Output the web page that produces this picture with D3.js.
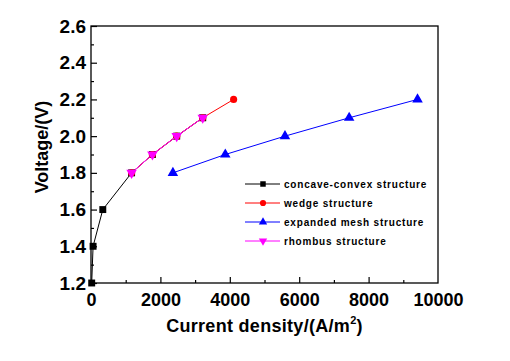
<!DOCTYPE html>
<html>
<head>
<meta charset="utf-8">
<script src="https://cdn.jsdelivr.net/npm/d3@7"></script>
<style>
  body { margin: 0; background: #fff; }
  text { font-family: "Liberation Sans", Arial, sans-serif; font-weight: bold; }
</style>
</head>
<body>
<div id="chart"></div>
<script>
// series data (current density A/m2, voltage V)
const concaveX = [20, 60, 340, 1170, 1770, 2470, 3220]
const concaveY = [1.2, 1.4, 1.6, 1.8, 1.9, 2.0, 2.1]
const wedgeX = [1170, 1770, 2470, 3220, 4110]
const wedgeY = [1.8, 1.9, 2.0, 2.1, 2.2]
const meshX = [2360, 3870, 5590, 7440, 9410]
const meshY = [1.8, 1.9, 2.0, 2.1, 2.2]
const rhombusX = [1170, 1770, 2470, 3220]
const rhombusY = [1.8, 1.9, 2.0, 2.1]

const xTicks = [0, 2000, 4000, 6000, 8000, 10000]
const yTicks = [1.2, 1.4, 1.6, 1.8, 2.0, 2.2, 2.4, 2.6]
const legendNames = ['concave-convex structure', 'wedge structure', 'expanded mesh structure', 'rhombus structure']

const series = [
  { name: legendNames[0], xs: concaveX, ys: concaveY, color: '#000000', sym: d3.symbolSquare },
  { name: legendNames[1], xs: wedgeX, ys: wedgeY, color: '#ff0000', sym: d3.symbolCircle },
  { name: legendNames[2], xs: meshX, ys: meshY, color: '#0000ff', sym: d3.symbolTriangle },
  { name: legendNames[3], xs: rhombusX, ys: rhombusY, color: '#ff00ff', sym: 'down' }
]

const W = 510, H = 361
const margin = { left: 91, right: 72, top: 26, bottom: 78 }

const svg = d3.select('#chart').append('svg')
  .attr('width', W)
  .attr('height', H)

const x = d3.scaleLinear().domain([0, 10000]).range([margin.left, W - margin.right])
const y = d3.scaleLinear().domain([1.2, 2.6]).range([H - margin.bottom, margin.top])

// frame
svg.append('rect')
  .attr('x', x(0)).attr('y', y(2.6))
  .attr('width', x(10000) - x(0)).attr('height', y(1.2) - y(2.6))
  .attr('fill', 'none').attr('stroke', '#000').attr('stroke-width', 1.3)

// x axis - ticks pointing inward
const xAxis = svg.append('g').attr('transform', `translate(0,${y(1.2)})`)
  .call(d3.axisBottom(x).tickValues(xTicks).tickSize(-6).tickPadding(5).tickFormat(d3.format('d')))
xAxis.select('.domain').remove()
xAxis.selectAll('text').attr('font-size', 18).attr('fill', '#000').attr('dy', '1em')
xAxis.selectAll('.tick:first-child line, .tick:last-child line').remove()
svg.append('g').attr('transform', `translate(0,${y(1.2)})`)
  .call(d3.axisBottom(x).tickValues(d3.range(1000, 10000, 2000)).tickSize(-3).tickFormat(''))
  .select('.domain').remove()

// y axis
const yAxis = svg.append('g').attr('transform', `translate(${x(0)},0)`)
  .call(d3.axisLeft(y).tickValues(yTicks).tickSize(-6).tickPadding(5).tickFormat(d3.format('.1f')))
yAxis.select('.domain').remove()
yAxis.selectAll('text').attr('font-size', 19).attr('fill', '#000')
svg.append('g').attr('transform', `translate(${x(0)},0)`)
  .call(d3.axisLeft(y).tickValues(d3.range(1.3, 2.6, 0.2)).tickSize(-3).tickFormat(''))
  .select('.domain').remove()

svg.selectAll('.tick line').attr('stroke', '#000').attr('stroke-width', 1.2)

// axis titles
const xt = svg.append('text')
  .attr('x', (x(0) + x(10000)) / 2).attr('y', 332)
  .attr('text-anchor', 'middle').attr('font-size', 18).attr('letter-spacing', 0.3)
xt.append('tspan').text('Current density/(A/m')
xt.append('tspan').text('2').attr('font-size', 11).attr('dy', -8)
xt.append('tspan').text(')').attr('dy', 8)

svg.append('text')
  .attr('transform', `translate(48,147) rotate(-90)`)
  .attr('text-anchor', 'middle').attr('font-size', 18)
  .text('Voltage/(V)')

const line = d3.line().x(d => x(d[0])).y(d => y(d[1]))

function marker (g, s, size) {
  if (s.sym === 'down') {
    g.append('path').attr('d', d3.symbol(d3.symbolTriangle, size)).attr('transform', 'rotate(180)').attr('fill', s.color)
  } else {
    g.append('path').attr('d', d3.symbol(s.sym, size)).attr('fill', s.color)
  }
}

series.forEach(s => {
  const pts = s.xs.map((v, i) => [v, s.ys[i]])
  svg.append('path').datum(pts)
    .attr('d', line).attr('fill', 'none').attr('stroke', s.color).attr('stroke-width', 1)
  pts.forEach(p => {
    const g = svg.append('g').attr('transform', `translate(${x(p[0])},${y(p[1])})`)
    marker(g, s, s.sym === d3.symbolCircle ? 40 : 48)
  })
})

// legend
const legend = svg.append('g').attr('transform', 'translate(245,184)')
series.forEach((s, i) => {
  const row = legend.append('g').attr('transform', `translate(0,${i * 19})`)
  row.append('line').attr('x1', 0).attr('x2', 35).attr('y1', 0).attr('y2', 0)
    .attr('stroke', s.color).attr('stroke-width', 1)
  const m = row.append('g').attr('transform', 'translate(18,0)')
  marker(m, s, 30)
  row.append('text').attr('x', 39).attr('y', 4)
    .attr('font-size', 10).attr('letter-spacing', 0.8).text(s.name)
})
</script>
</body>
</html>
